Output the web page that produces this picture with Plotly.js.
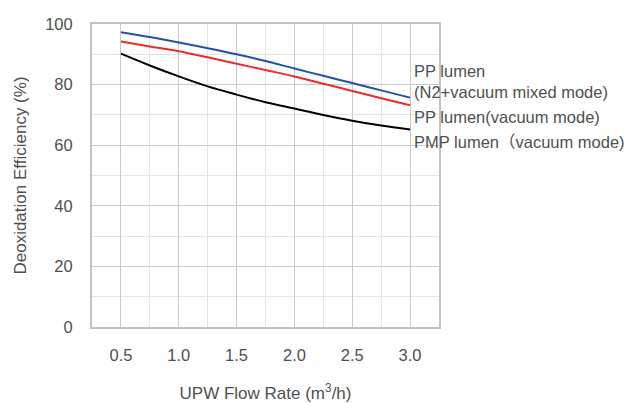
<!DOCTYPE html>
<html>
<head>
<meta charset="utf-8">
<script src="https://cdn.plot.ly/plotly-3.0.1.min.js"></script>
<style>html,body{margin:0;padding:0;background:#fff;}#chart{width:627px;height:403px;}</style>
</head>
<body>
<div id="chart"></div>
<script>
const flowRate = [0.5, 0.75, 1.0, 1.25, 1.5, 1.75, 2.0, 2.25, 2.5, 2.75, 3.0];
const ppMixed = [97.3, 95.7, 93.9, 92.0, 90.0, 87.8, 85.3, 82.9, 80.5, 78.1, 75.7];
const ppVacuum = [94.2, 92.6, 91.0, 89.0, 86.9, 84.8, 82.7, 80.3, 77.9, 75.5, 73.2];
const pmpVacuum = [90.2, 86.3, 82.7, 79.4, 76.7, 74.2, 72.1, 70.0, 68.1, 66.5, 65.2];
const xTickVals = [0.5, 1.0, 1.5, 2.0, 2.5, 3.0];
const xTickText = ['0.5', '1.0', '1.5', '2.0', '2.5', '3.0'];
const labelLines = ['PP lumen', '(N2+vacuum mixed mode)', 'PP lumen(vacuum mode)', 'PMP lumen（vacuum mode)'];
const labelY = [84.6, 77.4, 69.4, 60.9];

const font = "'Liberation Sans', Arial, 'Noto Sans CJK SC', sans-serif";
const textColor = '#4f4f4f';
const fnt = (s) => ({family: font, size: s, color: textColor});

const traces = [
  {x: flowRate, y: pmpVacuum, name: 'PMP lumen（vacuum mode)', mode: 'lines',
   line: {color: '#000000', width: 2, shape: 'spline'}},
  {x: flowRate, y: ppVacuum, name: 'PP lumen(vacuum mode)', mode: 'lines',
   line: {color: '#ee2a2a', width: 2, shape: 'spline'}},
  {x: flowRate, y: ppMixed, name: 'PP lumen (N2+vacuum mixed mode)', mode: 'lines',
   line: {color: '#2350ad', width: 2, shape: 'spline'}}
];

const layout = {
  width: 627, height: 403,
  margin: {l: 92, r: 188, t: 24, b: 76},
  paper_bgcolor: '#ffffff', plot_bgcolor: '#ffffff',
  showlegend: false,
  font: fnt(16),
  xaxis: {
    range: [0.25, 3.25], tickvals: xTickVals, ticktext: xTickText,
    showgrid: true, gridcolor: '#c9c9c9', gridwidth: 1,
    minor: {dtick: 0.25, tick0: 0.25, showgrid: true, gridcolor: '#e4e4e4', gridwidth: 1},
    showline: true, linecolor: '#c2c2c2', linewidth: 2, mirror: true,
    ticks: '', zeroline: false, fixedrange: true, ticklabelstandoff: 12,
    tickfont: fnt(16.5),
    title: {text: 'UPW Flow Rate (m<sup>3</sup>/h)', standoff: 26, font: fnt(17)}
  },
  yaxis: {
    range: [0, 100], dtick: 20, tick0: 0,
    showgrid: true, gridcolor: '#c9c9c9', gridwidth: 1,
    minor: {dtick: 10, showgrid: true, gridcolor: '#e4e4e4', gridwidth: 1},
    showline: true, linecolor: '#c2c2c2', linewidth: 2, mirror: true,
    ticks: '', zeroline: false, fixedrange: true, ticklabelstandoff: 14,
    tickfont: fnt(16.5),
    title: {text: 'Deoxidation Efficiency (%)', standoff: 14, font: fnt(17)}
  },
  annotations: labelLines.map((t, i) => ({
    text: t, x: 3.015, y: labelY[i], xref: 'x', yref: 'y',
    xanchor: 'left', yanchor: 'middle', showarrow: false,
    font: fnt(16.5)
  }))
};

Plotly.newPlot('chart', traces, layout, {displayModeBar: false, staticPlot: true});
</script>
</body>
</html>
